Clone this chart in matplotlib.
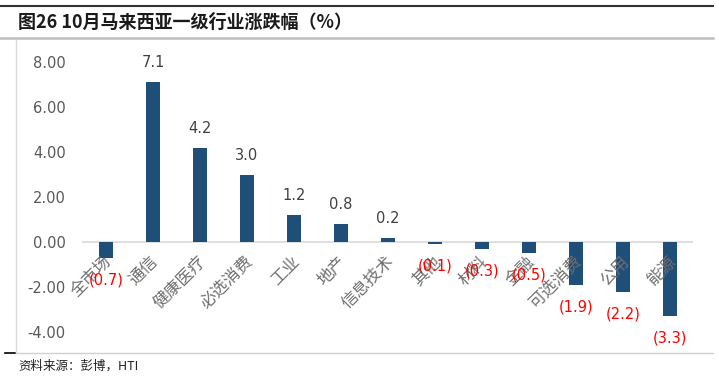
import matplotlib
matplotlib.use("Agg")
import matplotlib.pyplot as plt
from matplotlib.lines import Line2D

plt.rcParams['font.family'] = ['Noto Sans CJK SC', 'DejaVu Sans']

categories = ['全市场', '通信', '健康医疗', '必选消费', '工业', '地产', '信息技术',
              '其他', '材料', '金融', '可选消费', '公用', '能源']
values = [-0.7, 7.1, 4.2, 3.0, 1.2, 0.8, 0.2, -0.1, -0.3, -0.5, -1.9, -2.2, -3.3]
yticks = [-4, -2, 0, 2, 4, 6, 8]

title = '图26 10月马来西亚一级行业涨跌幅（%）'
source = '资料来源：彭博，HTI'

fig = plt.figure(figsize=(7.19, 3.80), dpi=100)
ax = fig.add_axes([0.1147, 0.1263, 0.8498, 0.7105])

x = list(range(len(categories)))
ax.bar(x, values, width=0.3, color='#1F4E79', zorder=3)
ax.axhline(0, color='#D9D9D9', lw=1.2, zorder=2)

# category names, rotated, hanging under the zero line
for xi, c in zip(x, categories):
    ax.annotate(c, (xi, 0), xytext=(-2, -8), textcoords='offset points',
                ha='right', va='top', rotation=45, rotation_mode='anchor',
                fontsize=12, fontweight='light', color='#6f6f6f',
                annotation_clip=False, zorder=4)

for xi, v in zip(x, values):
    if v >= 0:
        ax.annotate('%.1f' % v, (xi, v), xytext=(0, 14), textcoords='offset points',
                    ha='center', va='center', fontsize=10.5, color='#404040',
                    family='DejaVu Sans', annotation_clip=False, zorder=5)
    else:
        ax.annotate('(%.1f)' % abs(v), (xi, v), xytext=(0, -16), textcoords='offset points',
                    ha='center', va='center', fontsize=10.5, color='#FF0000',
                    family='DejaVu Sans', annotation_clip=False, zorder=5)

ax.set_xlim(-0.5, len(categories) - 0.5)
ax.set_ylim(-4, 8)
ax.set_yticks(yticks)
ax.set_yticklabels(['%.2f' % t for t in yticks], fontsize=10.5, color='#595959',
                   family='DejaVu Sans')
ax.set_xticks([])
ax.tick_params(axis='y', length=0, pad=12)
for s in ax.spines.values():
    s.set_visible(False)

# title, source and frame lines
fig.text(18 / 719, 1 - 22 / 380, title, fontsize=13, fontweight='bold',
         ha='left', va='center', color='#1a1a1a')
fig.text(18 / 719, 1 - 366 / 380, source, fontsize=9, ha='left', va='center',
         color='#222222')

def hline(y, x0, x1, color, lw):
    fig.add_artist(Line2D([x0 / 719, x1 / 719], [1 - y / 380, 1 - y / 380],
                          color=color, lw=lw, transform=fig.transFigure))

hline(6, 0, 713, '#333333', 1.5)
hline(38, 0, 713, '#BFBFBF', 1.8)
hline(353, 16, 713, '#D0D0D0', 1.0)
hline(353, 5, 15, '#000000', 1.2)
fig.add_artist(Line2D([16 / 719, 16 / 719], [1 - 40 / 380, 1 - 353 / 380],
                      color='#D9D9D9', lw=1.0, transform=fig.transFigure))

fig.savefig('out.png', dpi=100)
